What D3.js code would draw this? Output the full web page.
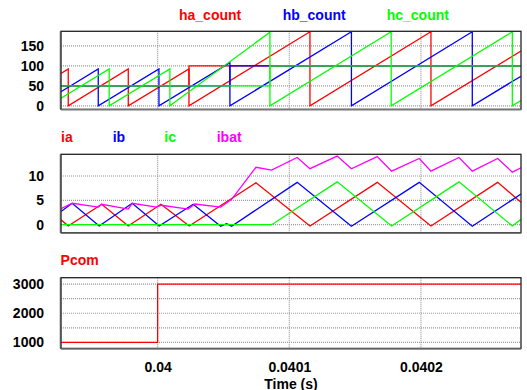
<!DOCTYPE html>
<html><head><meta charset="utf-8">
<script src="https://cdn.jsdelivr.net/npm/d3@7"></script>
<style>
body{margin:0;background:#fff}
svg{display:block}
text{font-family:"Liberation Sans",Arial,sans-serif;font-weight:bold;font-size:14px}
</style>
</head><body><svg id="c" width="527" height="390"></svg>
<script>
// ---------------- data ----------------
const timeDomain = [0.0399266, 0.0402760];
const xTicks = [0.04, 0.0401, 0.0402];
const xTickLabels = ["0.04", "0.0401", "0.0402"];
const xTitle = "Time (s)";

// panel 1 : counters
const countTicks = [0, 50, 100, 150];
const haT = [0.0399266,0.0399321,0.0399321,0.0399777,0.0399777,0.0400238,0.0400238,0.0401157,0.0401157,0.0402076,0.0402076,0.0402760];
const haV = [81,92,0,92,0,92,0,185,0,185,0,137];
const hbT = [0.0399266,0.0399549,0.0399549,0.0400010,0.0400010,0.0400549,0.0400549,0.0401472,0.0401472,0.0402390,0.0402390,0.0402760];
const hbV = [35,92,0,92,0,108,0,185,0,185,0,74];
const hcT = [0.0399266,0.0399632,0.0399632,0.0400093,0.0400093,0.0400853,0.0400853,0.0401774,0.0401774,0.0402694,0.0402694,0.0402760];
const hcV = [19,92,0,92,0,184,0,185,0,185,0,13];
// counter period levels
const haLevT = [0.0399266,0.0400238,0.0400238,0.0402760];
const haLevV = [50,50,100,100];
const hbLevT = [0.0399266,0.0400549,0.0400549,0.0402760];
const hbLevV = [50,50,100,100];
const hcLevT = [0.0399266,0.0400853,0.0400853,0.0402760];
const hcLevV = [50,50,100,100];

// panel 2 : currents
const currentTicks = [0, 5, 10];
const iaT = [0.0399266,0.0399321,0.0399575,0.0399777,0.0400025,0.0400240,0.0400747,0.0401157,0.0401668,0.0402076,0.0402583,0.0402760];
const iaV = [1.0,-0.25,4.2,-0.25,4.2,-0.25,8.6,-0.25,8.7,-0.25,8.7,4.6];
const ibT = [0.0399266,0.0399351,0.0399556,0.0399807,0.0400012,0.0400270,0.0400479,0.0400524,0.0400562,0.0401060,0.0401472,0.0401987,0.0402390,0.0402760];
const ibV = [2.7,4.4,-0.25,4.4,-0.25,4.2,-0.3,0.2,-0.3,8.7,-0.3,8.7,-0.3,6.3];
const icT = [0.0399266,0.0400866,0.0401364,0.0401777,0.0402289,0.0402694,0.0402760];
const icV = [0,0,8.8,-0.25,8.8,-0.25,1.1];
const ibatT = [0.0399266,0.0399351,0.0399549,0.0399575,0.0399777,0.0399807,0.0399992,0.0400030,0.0400232,0.0400283,0.0400479,0.0400562,0.0400747,0.0400866,0.0401060,0.0401157,0.0401364,0.0401472,0.0401668,0.0401777,0.0401987,0.0402076,0.0402289,0.0402390,0.0402583,0.0402694,0.0402760];
const ibatV = [3.3,4.4,3.6,4.2,3.2,4.4,3.6,4.0,3.2,4.25,3.6,5.2,11.8,11.2,13.8,11.5,14.1,11.5,14.0,11.0,13.6,11.0,13.8,11.0,13.6,10.8,11.7];

// panel 3 : power command
const powerTicks = [1000, 2000, 3000];
const powerGrid = [1000, 1500, 2000, 2500, 3000];
const pcomT = [0.0399266, 0.04, 0.0402760];
const pcomV = [1000, 3000, 3000];

// ---------------- drawing ----------------
const svg = d3.select("#c");
const X0 = 61, X1 = 521;
const x = d3.scaleLinear().domain(timeDomain).range([X0, X1]);

const panels = [
  {top:31.3, bottom:109.3, domain:[-8.75,186.25], ticks:countTicks, grid:countTicks,
   labels:[{t:"ha_count",x:179,c:"#ff0000"},{t:"hb_count",x:282.7,c:"#0000ff"},{t:"hc_count",x:386.7,c:"#00ff00"}], ly:19.5,
   series:[
     {T:haT,V:haV,c:"#ff0000"},{T:haLevT,V:haLevV,c:"#ff0000"},
     {T:hbT,V:hbV,c:"#0000ff"},{T:hbLevT,V:hbLevV,c:"#0000ff"},
     {T:hcT,V:hcV,c:"#00ff00"},{T:hcLevT,V:hcLevV,c:"#00ff00"}]},
  {top:154.3, bottom:232.7, domain:[-1.64,14.46], ticks:currentTicks, grid:currentTicks,
   labels:[{t:"ia",x:61,c:"#ff0000"},{t:"ib",x:112.7,c:"#0000ff"},{t:"ic",x:164.3,c:"#00ff00"},{t:"ibat",x:216.7,c:"#ff00ff"}], ly:141.5,
   series:[{T:iaT,V:iaV,c:"#ff0000"},{T:ibT,V:ibV,c:"#0000ff"},{T:icT,V:icV,c:"#00ff00"},{T:ibatT,V:ibatV,c:"#ff00ff"}]},
  {top:277.7, bottom:348.4, domain:[794,3219.6], ticks:powerTicks, grid:powerGrid,
   labels:[{t:"Pcom",x:60.6,c:"#ff0000"}], ly:265, step:true,
   series:[{T:pcomT,V:pcomV,c:"#ff0000"}]}
];

panels.forEach((p,pi) => {
  const y = d3.scaleLinear().domain(p.domain).range([p.bottom, p.top]);
  const g = svg.append("g");
  const clipId = "clip"+pi;
  svg.append("clipPath").attr("id", clipId).append("rect")
    .attr("x", X0).attr("y", p.top).attr("width", X1-X0).attr("height", p.bottom-p.top);
  // grid
  g.selectAll(".hg").data(p.grid).join("line")
    .attr("x1", X0).attr("x2", X1).attr("y1", d=>y(d)).attr("y2", d=>y(d))
    .attr("stroke", "#9a9a9a").attr("stroke-width", 1.2).attr("stroke-dasharray", "1,1");
  g.selectAll(".vg").data(xTicks).join("line")
    .attr("x1", d=>x(d)).attr("x2", d=>x(d)).attr("y1", p.top).attr("y2", p.bottom)
    .attr("stroke", "#9a9a9a").attr("stroke-width", 1.2).attr("stroke-dasharray", "1,1");
  // y tick labels
  const ax = d3.axisLeft(y).tickValues(p.ticks).tickSize(0).tickPadding(0).tickFormat(d3.format("d"));
  const axg = svg.append("g").attr("transform", `translate(44,0)`).call(ax);
  axg.select(".domain").remove();
  axg.selectAll("text").attr("fill", "#000").style("font-size","14px").style("font-weight","bold")
    .style("font-family", '"Liberation Sans",Arial,sans-serif');
  // series
  const lg = svg.append("g").attr("clip-path", `url(#${clipId})`);
  p.series.forEach(s => {
    const pts = s.T.map((t,i)=>[t, s.V[i]]);
    const line = d3.line().x(d=>x(d[0])).y(d=>y(d[1]));
    if (p.step) line.curve(d3.curveStepAfter);
    lg.append("path").attr("d", line(pts)).attr("fill","none")
      .attr("stroke", s.c).attr("stroke-width", 1.3);
  });
  // frame
  svg.append("rect").attr("x", X0).attr("y", p.top).attr("width", X1-X0).attr("height", p.bottom-p.top)
    .attr("fill","none").attr("stroke","#222").attr("stroke-width",1.3);
  svg.append("line").attr("x1", X0).attr("x2", X1).attr("y1", p.bottom+0.5).attr("y2", p.bottom+0.5)
    .attr("stroke","#777").attr("stroke-width",1.5);
  svg.append("line").attr("x1", X0-0.5).attr("x2", X0-0.5).attr("y1", p.top).attr("y2", p.bottom)
    .attr("stroke","#555").attr("stroke-width",1.5);
  // labels
  svg.selectAll(null).data(p.labels).join("text")
    .attr("x", d=>d.x).attr("y", p.ly).attr("fill", d=>d.c).text(d=>d.t);
});

// x axis
const xa = d3.axisBottom(x).tickValues(xTicks).tickSize(0).tickPadding(0)
  .tickFormat((d,i)=>xTickLabels[i]);
const xg = svg.append("g").attr("transform", "translate(0,362)").call(xa);
xg.select(".domain").remove();
xg.selectAll("text").attr("fill","#000").style("font-size","14px").style("font-weight","bold")
  .style("font-family", '"Liberation Sans",Arial,sans-serif');
svg.append("text").attr("x", (X0+X1)/2).attr("y", 388.5).attr("text-anchor","middle").attr("fill","#000").text(xTitle);
</script></body></html>
